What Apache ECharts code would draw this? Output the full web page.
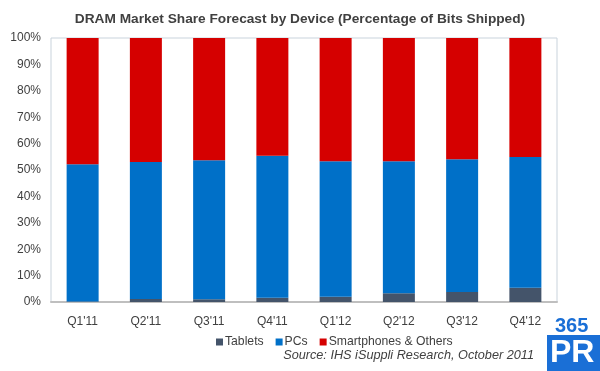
<!DOCTYPE html>
<html><head><meta charset="utf-8">
<script src="https://cdn.jsdelivr.net/npm/echarts@6/dist/echarts.min.js"></script>
<style>html,body{margin:0;padding:0;background:#fff}#c{width:600px;height:371px}</style>
</head><body><div id="c"></div>
<script>
const categories = ["Q1'11","Q2'11","Q3'11","Q4'11","Q1'12","Q2'12","Q3'12","Q4'12"];
const tablets = [0.2, 1.1, 1.0, 1.6, 2.0, 3.3, 3.8, 5.4];
const pcs = [52.0, 51.9, 52.7, 53.8, 51.3, 50.0, 50.3, 49.5];
const smartphones = [47.8, 47.0, 46.3, 44.6, 46.7, 46.7, 45.9, 45.1];
const yTicks = [0, 10, 20, 30, 40, 50, 60, 70, 80, 90, 100];

const font = 'Liberation Sans, Arial, sans-serif';
const chart = echarts.init(document.getElementById('c'), null, {renderer: 'canvas'});
chart.setOption({
  animation: false,
  title: {
    text: 'DRAM Market Share Forecast by Device (Percentage of Bits Shipped)',
    left: 'center', top: 7,
    textStyle: {fontFamily: font, fontSize: 13.7, fontWeight: 'bold', color: '#404040'}
  },
  legend: {
    data: ['Tablets', 'PCs', 'Smartphones & Others'],
    left: 211, top: 331,
    itemWidth: 7, itemHeight: 7, itemGap: 12,
    icon: 'rect',
    textStyle: {fontFamily: font, fontSize: 12.2, color: '#404040', padding: [0, 0, 0, -3]}
  },
  grid: {left: 51, right: 43, top: 38, bottom: 69, show: true, borderColor: '#c9d3dc', borderWidth: 1},
  xAxis: {
    type: 'category', data: categories,
    axisLine: {lineStyle: {color: '#bfbfbf', width: 2}},
    axisTick: {show: false},
    axisLabel: {fontFamily: font, fontSize: 12, color: '#404040', margin: 14}
  },
  yAxis: {
    type: 'value', min: yTicks[0], max: yTicks[yTicks.length - 1], interval: 10,
    splitLine: {show: false},
    axisLine: {show: false}, axisTick: {show: false},
    axisLabel: {fontFamily: font, fontSize: 12, color: '#404040', formatter: '{value}%', margin: 10}
  },
  series: [
    {name: 'Tablets', type: 'bar', stack: 's', data: tablets, barWidth: 32, itemStyle: {color: '#44546a'}},
    {name: 'PCs', type: 'bar', stack: 's', data: pcs, barWidth: 32, itemStyle: {color: '#0070c8'}},
    {name: 'Smartphones & Others', type: 'bar', stack: 's', data: smartphones, barWidth: 32, itemStyle: {color: '#d50000'}}
  ],
  graphic: [
    {type: 'text', right: 66, top: 349, style: {text: 'Source: IHS iSuppli Research, October 2011', fontFamily: font, fontSize: 12.7, fontStyle: 'italic', fill: '#404040'}},
    {type: 'rect', shape: {x: 547, y: 335, width: 53, height: 36}, style: {fill: '#1a6fd6'}},
    {type: 'text', left: 555, top: 316, style: {text: '365', fontFamily: font, fontSize: 20, fontWeight: 'bold', fill: '#1a6fd6'}},
    {type: 'text', left: 550, top: 337, style: {text: 'PR', fontFamily: font, fontSize: 32, fontWeight: 'bold', fill: '#ffffff'}}
  ]
});
</script></body></html>
